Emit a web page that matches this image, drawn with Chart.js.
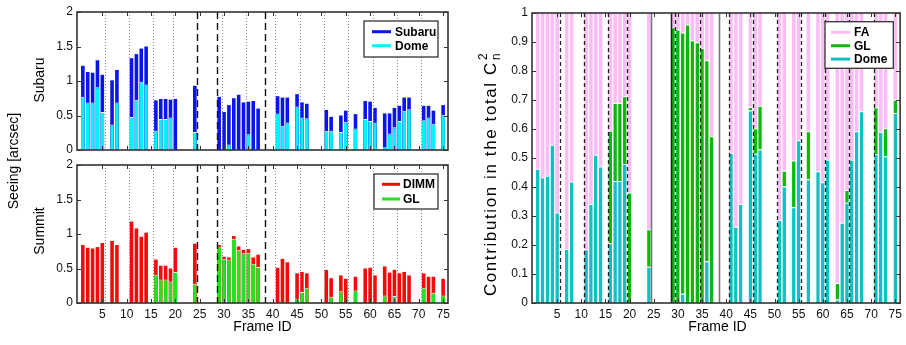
<!DOCTYPE html>
<html><head><meta charset="utf-8">
<script src="https://cdn.jsdelivr.net/npm/chart.js@4.4.1/dist/chart.umd.min.js"></script>
<style>
html,body{margin:0;padding:0;background:#fff;}
#wrap{position:relative;width:906px;height:345px;overflow:hidden;background:#fff;}
canvas{position:absolute;left:0;top:0;}
</style></head><body>
<div id="wrap">
<canvas id="cTop" width="906" height="345"></canvas>
<canvas id="cBot" width="906" height="345"></canvas>
<canvas id="cRight" width="906" height="345"></canvas>
</div>
<script>
// ---------- data ----------
const frames = [1,2,3,4,5,7,8,11,12,13,14,16,17,18,19,20,24,29,30,31,32,33,34,35,36,37,41,42,43,45,46,47,51,52,54,55,57,59,60,61,63,64,65,66,67,68,71,72,73,75];
const subaruSeeing = [1.22,1.13,1.12,1.30,1.09,1.01,1.16,1.33,1.39,1.47,1.50,0.72,0.74,0.74,0.73,0.74,0.93,0.77,0.55,0.65,0.75,0.80,0.69,0.70,0.71,0.60,0.78,0.76,0.76,0.81,0.69,0.67,0.58,0.48,0.50,0.57,0.52,0.71,0.70,0.61,0.53,0.53,0.61,0.64,0.76,0.76,0.64,0.64,0.57,0.65];
const domeSeeing = [0.77,0.69,0.69,0.91,0.55,0.37,0.69,0.48,0.73,0.99,0.95,0.28,0.45,0.45,0.47,0,0.26,0,0,0.08,0,0,0,0.23,0,0,0.53,0.35,0.40,0.63,0.47,0.46,0.28,0.28,0.26,0.41,0.31,0.45,0.42,0.40,0.04,0.24,0.33,0.42,0.57,0.59,0.43,0.47,0.38,0.51];
const dimmSeeing = [0.84,0.80,0.79,0.81,0.87,0.90,0.84,1.18,1.08,0.96,1.02,0.63,0.54,0.54,0.50,0.80,0.86,0.84,0.67,0.66,0.97,0.82,0.77,0.78,0.66,0.70,0.51,0.64,0.59,0.43,0.45,0.43,0.48,0.36,0.40,0.35,0.38,0.50,0.51,0.40,0.53,0.44,0.48,0.43,0.45,0.40,0.43,0.38,0.38,0.35];
const glSeeing = [0,0,0,0,0,0,0,0,0,0,0,0.41,0.34,0.34,0.31,0.45,0.28,0.82,0.64,0.63,0.93,0.77,0.72,0.73,0.57,0.52,0,0,0,0.06,0.16,0.22,0,0.09,0.17,0,0.18,0,0,0,0.11,0,0.10,0,0,0,0.22,0,0.15,0.11];
const domeFrac = [0.463,0.434,0.439,0.546,0.312,0.186,0.419,0.185,0.341,0.511,0.471,0.206,0.421,0.421,0.479,0,0.125,0,0,0.032,0,0,0,0,0.144,0,0.517,0.263,0.341,0.664,0.515,0.529,0.286,0.402,0.330,0.561,0.427,0.454,0.416,0.494,0.012,0.277,0.346,0.494,0.592,0.661,0.514,0.590,0.506,0.655];
const glFrac = [0,0,0,0,0,0,0,0,0,0,0,0.388,0.269,0.269,0.234,0.381,0.129,0.951,0.943,0.901,0.960,0.906,0.899,0.879,0.693,0.575,0,0,0,0.012,0.088,0.151,0,0.054,0.161,0,0.165,0,0,0,0.057,0,0.044,0,0,0,0.161,0,0.097,0.046];
const faFrac = [0.537,0.566,0.561,0.454,0.688,0.814,0.581,0.815,0.659,0.489,0.529,0.406,0.310,0.310,0.287,0.619,0.746,0.049,0.057,0.067,0.040,0.094,0.101,0.121,0.163,0.425,0.483,0.737,0.659,0.324,0.397,0.320,0.714,0.544,0.509,0.439,0.408,0.546,0.584,0.506,0.931,0.723,0.610,0.506,0.408,0.339,0.325,0.410,0.397,0.299];
const xTicks = [5,10,15,20,25,30,35,40,45,50,55,60,65,70,75];
const yTicksSeeing = [0,0.5,1,1.5,2];
const yTicksFrac = [0,0.1,0.2,0.3,0.4,0.5,0.6,0.7,0.8,0.9,1];
const nightSplits = [5.5,10.5,15.5,19.5,29.5,34.5,40.5,45.5,50.5,55.5,60.5,65.5,70.5];
const runSplits = [24.5,28.5,38.5];

// ---------- styling ----------
const FONT = '"Liberation Sans", Arial, Helvetica, sans-serif';
const C = {subaru:'#0a14eb', dome:'#00f2fc', dimm:'#f50a0a', gl:'#1ee61e',
           fa:'#fcbdf6', gl2:'#0cb80c', dome2:'#12bfc4'};
const TOPB = {top:1, right:0, bottom:0, left:0};
const BAR = {barThickness:3.6, inflateAmount:0};

function pts(vals){ return frames.map((f,i)=>({x:f, y:vals[i]})); }

function xAxis(showLabels){
  return {type:'linear', min:-0.2, max:76, offset:false,
    afterBuildTicks: s => { s.ticks = xTicks.map(v=>({value:v})); },
    ticks:{display:showLabels, autoSkip:false, maxRotation:0, padding:4, color:'#111', font:{family:FONT,size:12}},
    grid:{display:false, drawTicks:false}, border:{display:false},
    afterFit: s => { s.height = showLabels ? 20 : 0; }
  };
}
function yAxis(max, ticks, width){
  return {type:'linear', min:0, max:max,
    afterBuildTicks: s => { s.ticks = ticks.map(v=>({value:v})); },
    ticks:{padding:4, color:'#111', font:{family:FONT,size:12}, callback:v=>String(v)},
    grid:{display:false, drawTicks:false}, border:{display:false},
    afterFit: s => { s.width = width; }
  };
}

const deco = {
  id:'deco',
  afterDatasetsDraw(chart, args, o){
    const ctx = chart.ctx, a = chart.chartArea, xs = chart.scales.x, ys = chart.scales.y;
    ctx.save();
    (o.lines||[]).forEach(L=>{
      ctx.setLineDash(L.dash); ctx.lineWidth=L.width;
      L.at.forEach((v,i)=>{
        const p = Math.round(xs.getPixelForValue(v))+0.5;
        ctx.strokeStyle = L.colors ? L.colors[i] : L.color;
        ctx.beginPath(); ctx.moveTo(p,a.top); ctx.lineTo(p,a.bottom); ctx.stroke();
      });
    });
    ctx.setLineDash([]);
    ctx.strokeStyle='#333'; ctx.lineWidth=1; ctx.beginPath();
    xs.ticks.forEach(t=>{ const p=Math.round(xs.getPixelForValue(t.value))+0.5;
      ctx.moveTo(p,a.bottom); ctx.lineTo(p,a.bottom-4); ctx.moveTo(p,a.top); ctx.lineTo(p,a.top+4); });
    ys.ticks.forEach(t=>{ const p=Math.round(ys.getPixelForValue(t.value))+0.5;
      ctx.moveTo(a.left,p); ctx.lineTo(a.left+4,p); ctx.moveTo(a.right,p); ctx.lineTo(a.right-4,p); });
    ctx.stroke();
    ctx.lineWidth=1.6; ctx.strokeStyle='#333';
    ctx.strokeRect(a.left, a.top, a.right-a.left, a.bottom-a.top);
    if(o.legend){
      const L=o.legend, [x1,y1,x2,y2]=L.box;
      ctx.fillStyle='#fff'; ctx.fillRect(x1,y1,x2-x1,y2-y1);
      ctx.lineWidth=1.3; ctx.strokeStyle='#333'; ctx.strokeRect(x1,y1,x2-x1,y2-y1);
      ctx.font='bold 12px '+FONT; ctx.textBaseline='middle'; ctx.textAlign='left';
      L.items.forEach((idx,i)=>{
        const ds=chart.data.datasets[idx], yy=y1+L.first+i*L.step;
        ctx.strokeStyle=ds.backgroundColor; ctx.lineWidth=3;
        ctx.beginPath(); ctx.moveTo(L.lineX[0],yy); ctx.lineTo(L.lineX[1],yy); ctx.stroke();
        ctx.fillStyle='#000'; ctx.fillText(ds.label, L.textX, yy+0.5);
      });
    }
    (o.texts||[]).forEach(T=>{
      ctx.save(); ctx.fillStyle='#000';
      ctx.font=T.size+'px '+FONT; ctx.textBaseline='middle';
      if(T.spacing) ctx.letterSpacing = T.spacing+'px';
      ctx.translate(T.x,T.y); if(T.rot) ctx.rotate(-Math.PI/2);
      if(T.sub){
        const w0=ctx.measureText(T.t).width;
        ctx.font=(T.size*0.7)+'px '+FONT;
        const w1=Math.max(ctx.measureText(T.sub).width, ctx.measureText(T.sup).width);
        const x0=-(w0+w1+1)/2;
        ctx.font=T.size+'px '+FONT; ctx.textAlign='left';
        ctx.fillText(T.t, x0, 0);
        ctx.font=(T.size*0.7)+'px '+FONT;
        ctx.fillText(T.sup, x0+w0+1, -T.size*0.42);
        ctx.fillText(T.sub, x0+w0+1, T.size*0.32);
      } else {
        ctx.textAlign='center'; ctx.fillText(T.t,0,0);
      }
      ctx.restore();
    });
    ctx.restore();
  }
};
Chart.register(deco);

const base = {responsive:false, animation:false, devicePixelRatio:1, events:[]};

// ---------- top-left: Subaru ----------
new Chart(document.getElementById('cTop'), {
  type:'bar',
  data:{datasets:[
    Object.assign({label:'Dome', data:pts(domeSeeing), backgroundColor:C.dome, borderColor:'#fff', borderWidth:TOPB, grouped:false}, BAR),
    Object.assign({label:'Subaru', data:pts(subaruSeeing), backgroundColor:C.subaru, borderWidth:0, grouped:false}, BAR)
  ]},
  options:Object.assign({}, base, {
    layout:{padding:{left:0, top:12, right:906-448, bottom:345-150}},
    scales:{x:xAxis(false), y:yAxis(2, yTicksSeeing, 77)},
    plugins:{legend:{display:false}, tooltip:{enabled:false},
      deco:{
        lines:[{at:nightSplits, dash:[1,2], width:1, color:'#8a8a8a'},{at:runSplits, dash:[7,4], width:1.4, color:'#111'}],
        legend:{box:[364,21,438,57], lineX:[372,391], textX:395, first:10.7, step:14, items:[1,0]},
        texts:[{t:'Seeing [arcsec]', x:14, y:161, rot:true, size:14},{t:'Subaru', x:40, y:80, rot:true, size:14}]
      }}
  })
});

// ---------- bottom-left: Summit ----------
new Chart(document.getElementById('cBot'), {
  type:'bar',
  data:{datasets:[
    Object.assign({label:'GL', data:pts(glSeeing), backgroundColor:C.gl, borderColor:'#fff', borderWidth:TOPB, grouped:false}, BAR),
    Object.assign({label:'DIMM', data:pts(dimmSeeing), backgroundColor:C.dimm, borderWidth:0, grouped:false}, BAR)
  ]},
  options:Object.assign({}, base, {
    layout:{padding:{left:0, top:165, right:906-448, bottom:345-303-20}},
    scales:{x:xAxis(true), y:yAxis(2, yTicksSeeing, 77)},
    plugins:{legend:{display:false}, tooltip:{enabled:false},
      deco:{
        lines:[{at:nightSplits, dash:[1,2], width:1, color:'#8a8a8a'},{at:runSplits, dash:[7,4], width:1.4, color:'#111'}],
        legend:{box:[374,174,438,209], lineX:[382,400], textX:403, first:10.3, step:14.7, items:[1,0]},
        texts:[{t:'Summit', x:40, y:231, rot:true, size:14},{t:'Frame ID', x:262.5, y:327, rot:false, size:14}]
      }}
  })
});

// ---------- right: contributions ----------
new Chart(document.getElementById('cRight'), {
  type:'bar',
  data:{datasets:[
    Object.assign({label:'Dome', data:pts(domeFrac), backgroundColor:C.dome2, borderColor:'#fff', borderWidth:TOPB}, BAR),
    Object.assign({label:'GL', data:pts(glFrac), backgroundColor:C.gl2, borderColor:'#fff', borderWidth:TOPB}, BAR),
    Object.assign({label:'FA', data:pts(faFrac), backgroundColor:C.fa, borderWidth:0}, BAR)
  ]},
  options:Object.assign({}, base, {
    layout:{padding:{left:0, top:13, right:3, bottom:345-303-20}},
    scales:{x:Object.assign(xAxis(true),{stacked:true}), y:Object.assign(yAxis(1, yTicksFrac, 532),{stacked:true})},
    plugins:{legend:{display:false}, tooltip:{enabled:false},
      deco:{
        lines:[{at:nightSplits, dash:[4,3], width:1.3, color:'#222'},{at:runSplits, dash:[], width:1.6, colors:['#777','#222','#777']}],
        legend:{box:[825,21.7,893.3,68.3], lineX:[831,850], textX:854, first:10.6, step:13.4, items:[2,1,0]},
        texts:[{t:'Contribution in the total C', sub:'n', sup:'2', x:491, y:174, rot:true, size:17, spacing:1.6},
               {t:'Frame ID', x:717.5, y:327, rot:false, size:14}]
      }}
  })
});
</script>
</body></html>
